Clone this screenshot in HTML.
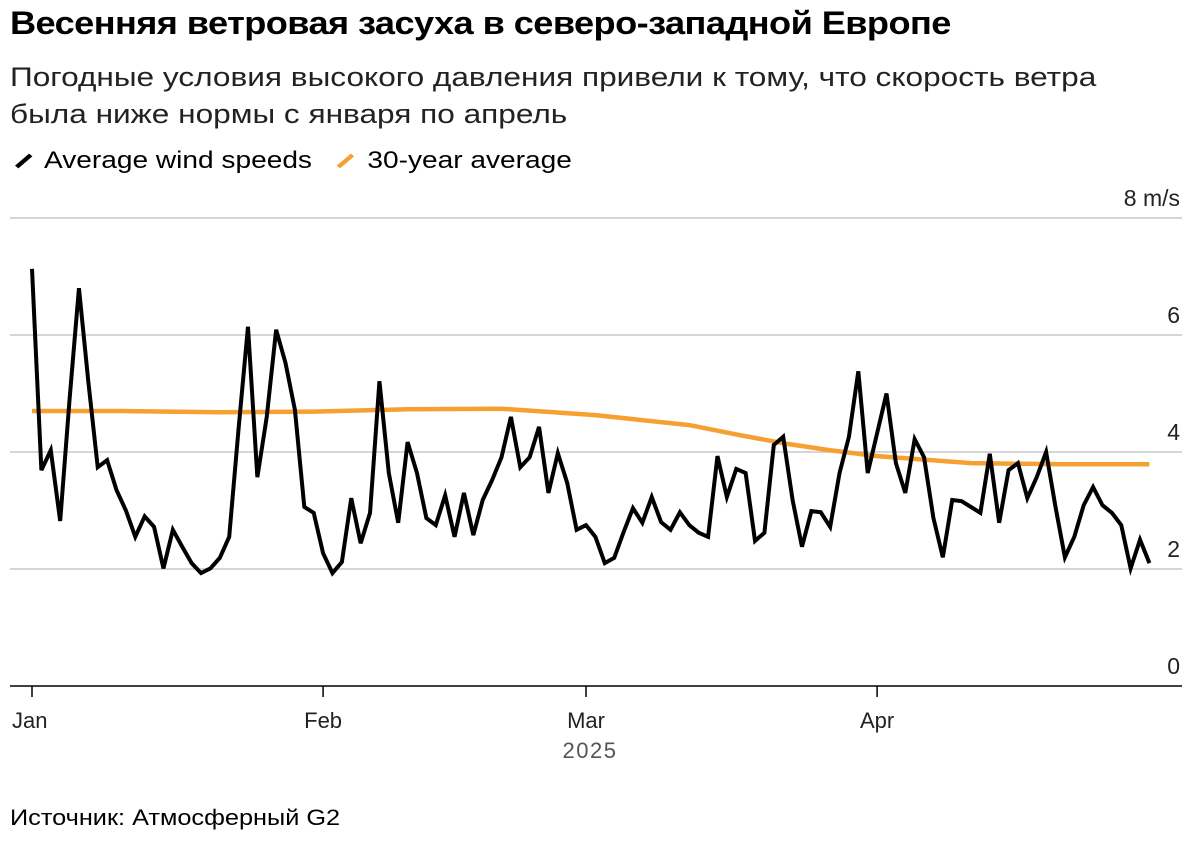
<!DOCTYPE html>
<html><head><meta charset="utf-8"><style>
body{margin:0;background:#fff;width:1200px;height:849px;overflow:hidden;font-family:"Liberation Sans","Noto Sans CJK SC",sans-serif;color:#000}
.t{position:absolute;white-space:nowrap;transform-origin:0 0}
</style></head><body>
<div class="t" style="left:10px;top:5px;font-size:32px;font-weight:bold;letter-spacing:-0.5px;transform:scaleX(1.13)">Весенняя ветровая засуха в северо-западной Европе</div>
<div class="t" style="left:10px;top:59px;font-size:27px;line-height:37px;color:#222;transform:scaleX(1.17)">Погодные условия высокого давления привели к тому, что скорость ветра<br>была ниже нормы с января по апрель</div>
<div class="t" style="left:12px;top:147px;font-size:24px;transform:scaleX(1.17)">
<span><svg width="22" height="20" style="vertical-align:-2px"><line x1="4" y1="17" x2="16" y2="5" stroke="#000" stroke-width="4"/></svg> Average wind speeds</span>
<span style="margin-left:12px"><svg width="22" height="20" style="vertical-align:-2px"><line x1="4" y1="17" x2="16" y2="5" stroke="#f5a030" stroke-width="4"/></svg> 30-year average</span>
</div>
<svg id="chart" width="1200" height="849" style="position:absolute;left:0;top:0"></svg>
<div class="t" style="left:10px;top:805px;font-size:22px;transform:scaleX(1.15)">Источник: Атмосферный G2</div>
<script>
const windValues=[7.13,3.69,4.03,2.82,4.9,6.8,5.2,3.74,3.86,3.35,3.0,2.55,2.9,2.72,2.01,2.67,2.38,2.1,1.93,2.01,2.19,2.55,4.4,6.14,3.57,4.6,6.09,5.52,4.72,3.06,2.96,2.27,1.93,2.12,3.21,2.44,2.96,5.21,3.64,2.79,4.17,3.64,2.87,2.75,3.26,2.55,3.3,2.58,3.18,3.52,3.91,4.6,3.74,3.91,4.43,3.3,3.98,3.47,2.67,2.75,2.55,2.1,2.19,2.63,3.04,2.79,3.23,2.8,2.67,2.97,2.75,2.62,2.55,3.93,3.23,3.71,3.64,2.48,2.62,4.12,4.26,3.18,2.38,2.99,2.97,2.72,3.64,4.26,5.38,3.64,4.32,5.0,3.81,3.3,4.22,3.91,2.87,2.2,3.18,3.16,3.06,2.96,3.97,2.79,3.69,3.81,3.21,3.57,4.0,3.06,2.2,2.55,3.09,3.4,3.09,2.96,2.75,2.01,2.5,2.1];
const avgDays=[0,10,20,30,40,50,60,70,75,80,85,90,100,110,119];
const avgValues=[4.70,4.70,4.68,4.69,4.73,4.74,4.63,4.46,4.30,4.15,4.03,3.93,3.81,3.79,3.79];
const yTicks=[0,2,4,6,8];
const yTickLabels=["0","2","4","6","8 m/s"];
const monthDays=[0,31,59,90];
const monthLabels=["Jan","Feb","Mar","Apr"];
const NS="http://www.w3.org/2000/svg";
const svg=document.getElementById('chart');
function x(d){return 32+d*9.39;}
function y(v){return 686-58.5*v;}
function mk(t,a){const e=document.createElementNS(NS,t);for(const k in a)e.setAttribute(k,a[k]);svg.appendChild(e);return e;}
yTicks.forEach((v,i)=>{
 if(v>0){const g=mk('line',{x1:10,x2:1182,y1:y(v),y2:y(v),stroke:'#c8c8c8','stroke-width':1.5});
 
 }
 const t=mk('text',{x:1180,y:y(v)-12,'text-anchor':'end','font-size':23,fill:'#222'});
 
 
 t.textContent=yTickLabels[i];
});
const ax=mk('line',{x1:10,x2:1182,y1:686,y2:686,stroke:'#000','stroke-width':1.5});


monthDays.forEach((d,i)=>{
 const tk=mk('line',{x1:x(d),x2:x(d),y1:686,y2:697,stroke:'#000','stroke-width':1.5});
 
 
 const t=mk('text',{x:x(d),y:728,'text-anchor':i==0?'start':'middle','font-size':22,fill:'#222'});
 if(i==0)t.setAttribute('x',x(d)-20);
 
 
 t.textContent=monthLabels[i];
});
const yr=mk('text',{x:590,y:758,'text-anchor':'middle','font-size':22,fill:'#555','letter-spacing':'1.5'});


yr.textContent='2025';
const ap=mk('polyline',{points:avgDays.map((d,i)=>x(d)+','+y(avgValues[i])).join(' '),fill:'none',stroke:'#f5a030','stroke-width':4.5,'stroke-linejoin':'round'});


const wp=mk('polyline',{points:windValues.map((v,i)=>x(i)+','+y(v)).join(' '),fill:'none',stroke:'#000','stroke-width':4,'stroke-linejoin':'miter'});


</script>
</body></html>
